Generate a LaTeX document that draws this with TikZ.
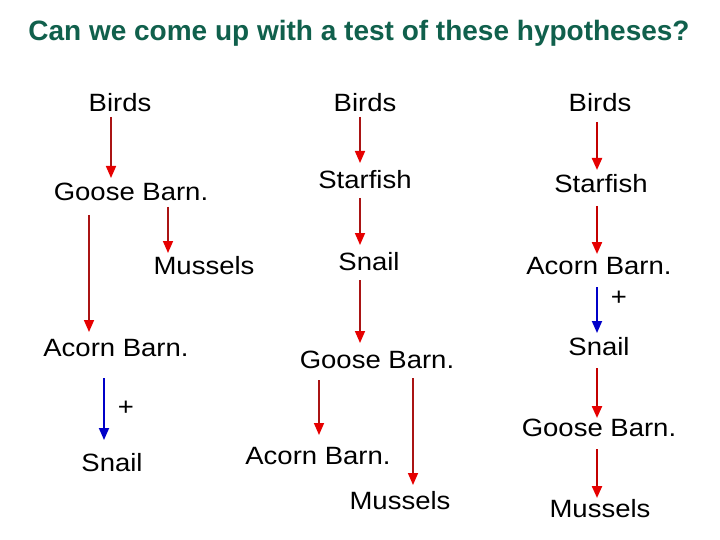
\documentclass[tikz,border=0pt]{standalone}
\usepackage{fontspec}
\setmainfont{Liberation Sans}
\usetikzlibrary{arrows.meta,calc}
\definecolor{titlegreen}{RGB}{16,96,76}
\definecolor{linered}{RGB}{170,20,20}
\definecolor{headred}{RGB}{230,0,0}
\definecolor{arrblue}{RGB}{0,0,200}
\newcommand{\sx}[1]{\scalebox{1.1}[1]{#1}}
\tikzset{
  lbl/.style={inner sep=0pt, font=\fontsize{25}{30}\selectfont},
  redarr/.style={draw=linered, line width=1.6pt, -{Triangle[length=12pt,width=10pt,fill=headred,color=headred]}},
  redarrb/.style={draw=headred!85!black, line width=2.2pt, -{Triangle[length=12pt,width=10pt,fill=headred,color=headred]}},
  bluearr/.style={draw=arrblue, line width=1.8pt, -{Triangle[length=12pt,width=10pt,fill=arrblue,color=arrblue]}}
}
\begin{document}
\begin{tikzpicture}[x=1pt,y=-1pt]
\useasboundingbox[fill=white] (0,0) rectangle (720,540);
\node[inner sep=0pt, font=\fontsize{28}{32}\selectfont\bfseries, text=titlegreen] (title) at (359,33) {Can we come up with a test of these hypotheses?};

% column 1
\node[lbl] (b1) at (120,103) {\sx{Birds}};
\node[lbl] (g1) at (131,192) {\sx{Goose Barn.}};
\node[lbl] (m1) at (204,266) {\sx{Mussels}};
\node[lbl] (a1) at (116,348) {\sx{Acorn Barn.}};
\node[lbl] (p1) at (126,408) {\sx{+}};
\node[lbl] (s1) at (112,463) {\sx{Snail}};
\draw[redarr] ($(b1)+(-9,14)$) -- ($(g1)+(-20,-14)$);
\draw[redarr] ($(g1)+(37,15)$) -- ($(m1)+(-36,-13)$);
\draw[redarr] ($(g1)+(-42,23)$) -- ($(a1)+(-27,-16)$);
\draw[bluearr] ($(a1)+(-12,30)$) -- ($(s1)+(-8,-23)$);

% column 2
\node[lbl] (b2) at (365,103) {\sx{Birds}};
\node[lbl] (f2) at (365,180) {\sx{Starfish}};
\node[lbl] (s2) at (369,262) {\sx{Snail}};
\node[lbl] (g2) at (377,360) {\sx{Goose Barn.}};
\node[lbl] (a2) at (318,456) {\sx{Acorn Barn.}};
\node[lbl] (m2) at (400,501) {\sx{Mussels}};
\draw[redarr] ($(b2)+(-5,14)$) -- ($(f2)+(-5,-17)$);
\draw[redarr] ($(f2)+(-5,18)$) -- ($(s2)+(-9,-17)$);
\draw[redarr] ($(s2)+(-9,18)$) -- ($(g2)+(-17,-17)$);
\draw[redarr] ($(g2)+(-58,20)$) -- ($(a2)+(1,-21)$);
\draw[redarr] ($(g2)+(36,18)$) -- ($(m2)+(13,-16)$);

% column 3
\node[lbl] (b3) at (600,103) {\sx{Birds}};
\node[lbl] (f3) at (601,184) {\sx{Starfish}};
\node[lbl] (a3) at (599,266) {\sx{Acorn Barn.}};
\node[lbl] (p3) at (619,298) {\sx{+}};
\node[lbl] (s3) at (599,347) {\sx{Snail}};
\node[lbl] (g3) at (599,428) {\sx{Goose Barn.}};
\node[lbl] (m3) at (600,509) {\sx{Mussels}};
\draw[redarrb] ($(b3)+(-3,19)$) -- ($(f3)+(-4,-14)$);
\draw[redarrb] ($(f3)+(-4,22)$) -- ($(a3)+(-2,-12)$);
\draw[bluearr] ($(a3)+(-2,21)$) -- ($(s3)+(-2,-14)$);
\draw[redarrb] ($(s3)+(-2,21)$) -- ($(g3)+(-2,-10)$);
\draw[redarrb] ($(g3)+(-2,21)$) -- ($(m3)+(-3,-11)$);
\end{tikzpicture}
\end{document}
